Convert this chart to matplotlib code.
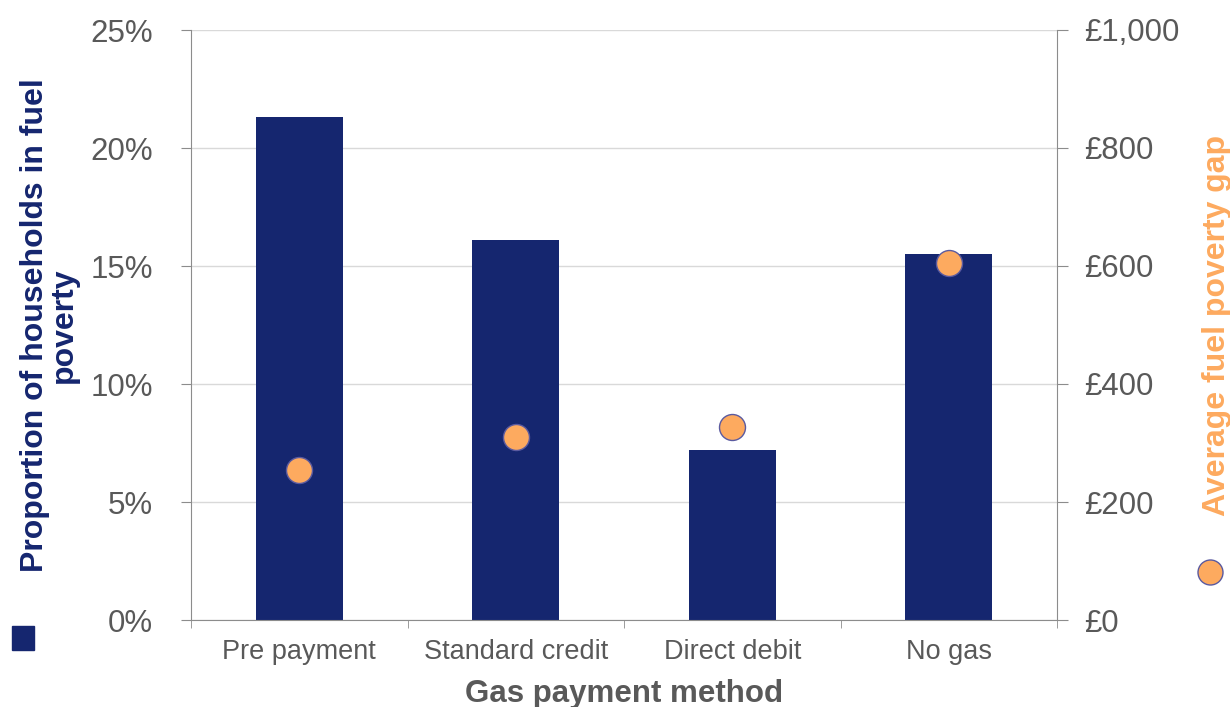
import numpy as np
import matplotlib
matplotlib.use("Agg")
import matplotlib.pyplot as plt
from matplotlib.ticker import FuncFormatter

plt.rcParams['font.family'] = ['Liberation Sans', 'DejaVu Sans']

methods = ["Pre payment", "Standard credit", "Direct debit", "No gas"]
share_pct = [21.3, 16.1, 7.2, 15.5]
gap_gbp = [254, 310, 327, 605]

navy = "#15266F"
orange = "#FDAA5F"
grey = "#595959"
spine = "#8C8C8C"

fig = plt.figure(figsize=(12.3, 7.07), dpi=100)
ax = fig.add_axes([191 / 1230, 1 - 620 / 707, 866 / 1230, 590 / 707])
x = np.arange(len(methods))
ax.bar(x, share_pct, width=0.40, color=navy, zorder=2)
ax.set_xlim(-0.5, len(methods) - 0.5)
ax.set_ylim(0, 25)
ax.set_yticks(np.arange(0, 26, 5))
ax.yaxis.set_major_formatter(FuncFormatter(lambda v, p: f"{v:.0f}%"))
ax.grid(axis="y", color="#D9D9D9", linewidth=1, zorder=0)
ax.set_axisbelow(True)

ax.set_xticks(x)
ax.set_xticklabels(methods, fontsize=19.5, color=grey)
ax.set_xticks(np.arange(-0.5, len(methods)), minor=True)
ax.tick_params(axis="x", which="major", length=0, pad=14)
ax.tick_params(axis="x", which="minor", length=6, color=spine, direction="out")
ax.tick_params(axis="y", labelsize=22.5, labelcolor=grey, length=7.5, color=spine, pad=20)
for s in ["top", "right"]:
    ax.spines[s].set_visible(False)
for s in ["left", "bottom"]:
    ax.spines[s].set_color(spine)
ax.set_xlabel("Gas payment method", fontsize=22.5, fontweight="bold", color=grey, labelpad=10)
ax.set_ylabel("Proportion of households in fuel\npoverty", fontsize=23, fontweight="bold",
              color=navy, labelpad=8, linespacing=0.95)

ax2 = ax.twinx()
ax2.scatter(x, gap_gbp, s=350, color=orange, edgecolor="#5A5AA0", linewidth=1, zorder=3)
ax2.set_ylim(0, 1000)
ax2.set_yticks(np.arange(0, 1001, 200))
ax2.yaxis.set_major_formatter(FuncFormatter(lambda v, p: f"£{v:,.0f}"))
ax2.tick_params(axis="y", labelsize=22.5, labelcolor=grey, length=8, color=spine, pad=11.5)
for s in ["top", "left", "bottom"]:
    ax2.spines[s].set_visible(False)
ax2.spines["right"].set_color(spine)
ax2.set_ylabel("Average fuel poverty gap", fontsize=23, fontweight="bold", color=orange, labelpad=16)

# legend key remnants
fig.patches.append(plt.Rectangle((12 / 1230, 1 - 650 / 707), 22 / 1230, 24 / 707,
                                 transform=fig.transFigure, color=navy))
fig.add_artist(plt.Line2D([1210 / 1230], [1 - 572 / 707], marker="o", markersize=18,
                          markerfacecolor=orange, markeredgecolor="#5A5AA0",
                          transform=fig.transFigure, linestyle="none"))

fig.savefig("out.png", dpi=100)
